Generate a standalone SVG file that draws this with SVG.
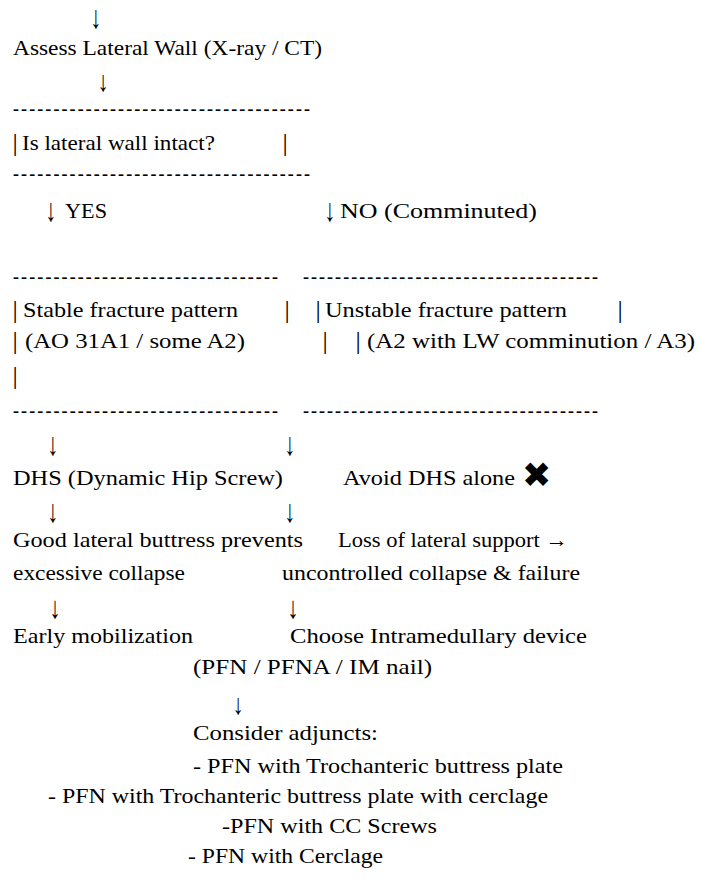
<svg xmlns="http://www.w3.org/2000/svg" width="714" height="880" viewBox="0 0 714 880">
<style>
text{font-family:"Liberation Serif","Times New Roman",serif;font-size:22px;fill:#000}
.d{font-size:18px;font-weight:bold}
.bar{font-size:26px;text-anchor:middle}
.arr{font-size:22px;text-anchor:middle}
.x{font-family:"DejaVu Sans",sans-serif;font-size:35px}
</style>
<rect width="714" height="880" fill="#fff"/>
<g id="connectors">
<text class="arr" transform="translate(96,28) scale(1,1.45)">↓</text>
<text class="arr" transform="translate(103,91) scale(1,1.3)">↓</text>
<text class="arr" transform="translate(51,221) scale(1,1.45)">↓</text>
<text class="arr" transform="translate(330,221) scale(1,1.45)">↓</text>
<text class="arr" transform="translate(53,455) scale(1,1.45)">↓</text>
<text class="arr" transform="translate(290,455) scale(1,1.45)">↓</text>
<text class="arr" transform="translate(53,522) scale(1,1.45)">↓</text>
<text class="arr" transform="translate(290,522) scale(1,1.45)">↓</text>
<text class="arr" transform="translate(55,618) scale(1,1.4)">↓</text>
<text class="arr" transform="translate(293,618) scale(1,1.4)">↓</text>
<text class="arr" transform="translate(238,714) scale(1,1.3)">↓</text>
</g>
<g id="assess">
<text x="13" y="55" textLength="309" lengthAdjust="spacingAndGlyphs">Assess Lateral Wall (X-ray / CT)</text>
</g>
<g id="question">
<text class="d" x="13" y="114.5" textLength="297">-------------------------------------</text>
<text class="bar" x="15" y="151">|</text>
<text x="22" y="150" textLength="193" lengthAdjust="spacingAndGlyphs">Is lateral wall intact?</text>
<text class="bar" x="285" y="151">|</text>
<text class="d" x="13" y="179.5" textLength="297">-------------------------------------</text>
</g>
<g id="yes-label">
<text x="65" y="218" textLength="42" lengthAdjust="spacingAndGlyphs">YES</text>
</g>
<g id="no-label">
<text x="340" y="218" textLength="197" lengthAdjust="spacingAndGlyphs">NO (Comminuted)</text>
</g>
<g id="stable">
<text class="d" x="13" y="282.5" textLength="265">---------------------------------</text>
<text class="bar" x="15" y="318">|</text>
<text x="23" y="317" textLength="215" lengthAdjust="spacingAndGlyphs">Stable fracture pattern</text>
<text class="bar" x="287" y="318">|</text>
<text class="bar" x="15" y="349">|</text>
<text x="25" y="348" textLength="220" lengthAdjust="spacingAndGlyphs">(AO 31A1 / some A2)</text>
<text class="bar" x="325" y="349">|</text>
<text class="bar" x="15" y="384">|</text>
<text class="d" x="13" y="416.5" textLength="265">---------------------------------</text>
</g>
<g id="unstable">
<text class="d" x="303" y="282.5" textLength="295">-------------------------------------</text>
<text class="bar" x="318" y="318">|</text>
<text x="325" y="317" textLength="242" lengthAdjust="spacingAndGlyphs">Unstable fracture pattern</text>
<text class="bar" x="620" y="318">|</text>
<text class="bar" x="358" y="349">|</text>
<text x="367" y="348" textLength="328" lengthAdjust="spacingAndGlyphs">(A2 with LW comminution / A3)</text>
<text class="d" x="303" y="416.5" textLength="295">-------------------------------------</text>
</g>
<g id="dhs">
<text x="13" y="485" textLength="270" lengthAdjust="spacingAndGlyphs">DHS (Dynamic Hip Screw)</text>
</g>
<g id="avoid">
<text x="343" y="485" textLength="172" lengthAdjust="spacingAndGlyphs">Avoid DHS alone</text>
<text class="x" x="522" y="487">✖</text>
</g>
<g id="good-buttress">
<text x="13" y="547" textLength="290" lengthAdjust="spacingAndGlyphs">Good lateral buttress prevents</text>
<text x="13" y="580" textLength="172" lengthAdjust="spacingAndGlyphs">excessive collapse</text>
</g>
<g id="loss-support">
<text x="338" y="547" textLength="230" lengthAdjust="spacingAndGlyphs">Loss of lateral support →</text>
<text x="282" y="580" textLength="298" lengthAdjust="spacingAndGlyphs">uncontrolled collapse &amp; failure</text>
</g>
<g id="early">
<text x="13" y="643" textLength="180" lengthAdjust="spacingAndGlyphs">Early mobilization</text>
</g>
<g id="im-device">
<text x="290" y="643" textLength="297" lengthAdjust="spacingAndGlyphs">Choose Intramedullary device</text>
<text x="193" y="674" textLength="239" lengthAdjust="spacingAndGlyphs">(PFN / PFNA / IM nail)</text>
</g>
<g id="adjuncts">
<text x="193" y="740" textLength="185" lengthAdjust="spacingAndGlyphs">Consider adjuncts:</text>
<text x="193" y="773" textLength="370" lengthAdjust="spacingAndGlyphs">- PFN with Trochanteric buttress plate</text>
<text x="48" y="803" textLength="500" lengthAdjust="spacingAndGlyphs">- PFN with Trochanteric buttress plate with cerclage</text>
<text x="222" y="833" textLength="215" lengthAdjust="spacingAndGlyphs">-PFN with CC Screws</text>
<text x="188" y="863" textLength="195" lengthAdjust="spacingAndGlyphs">- PFN with Cerclage</text>
</g>
</svg>
